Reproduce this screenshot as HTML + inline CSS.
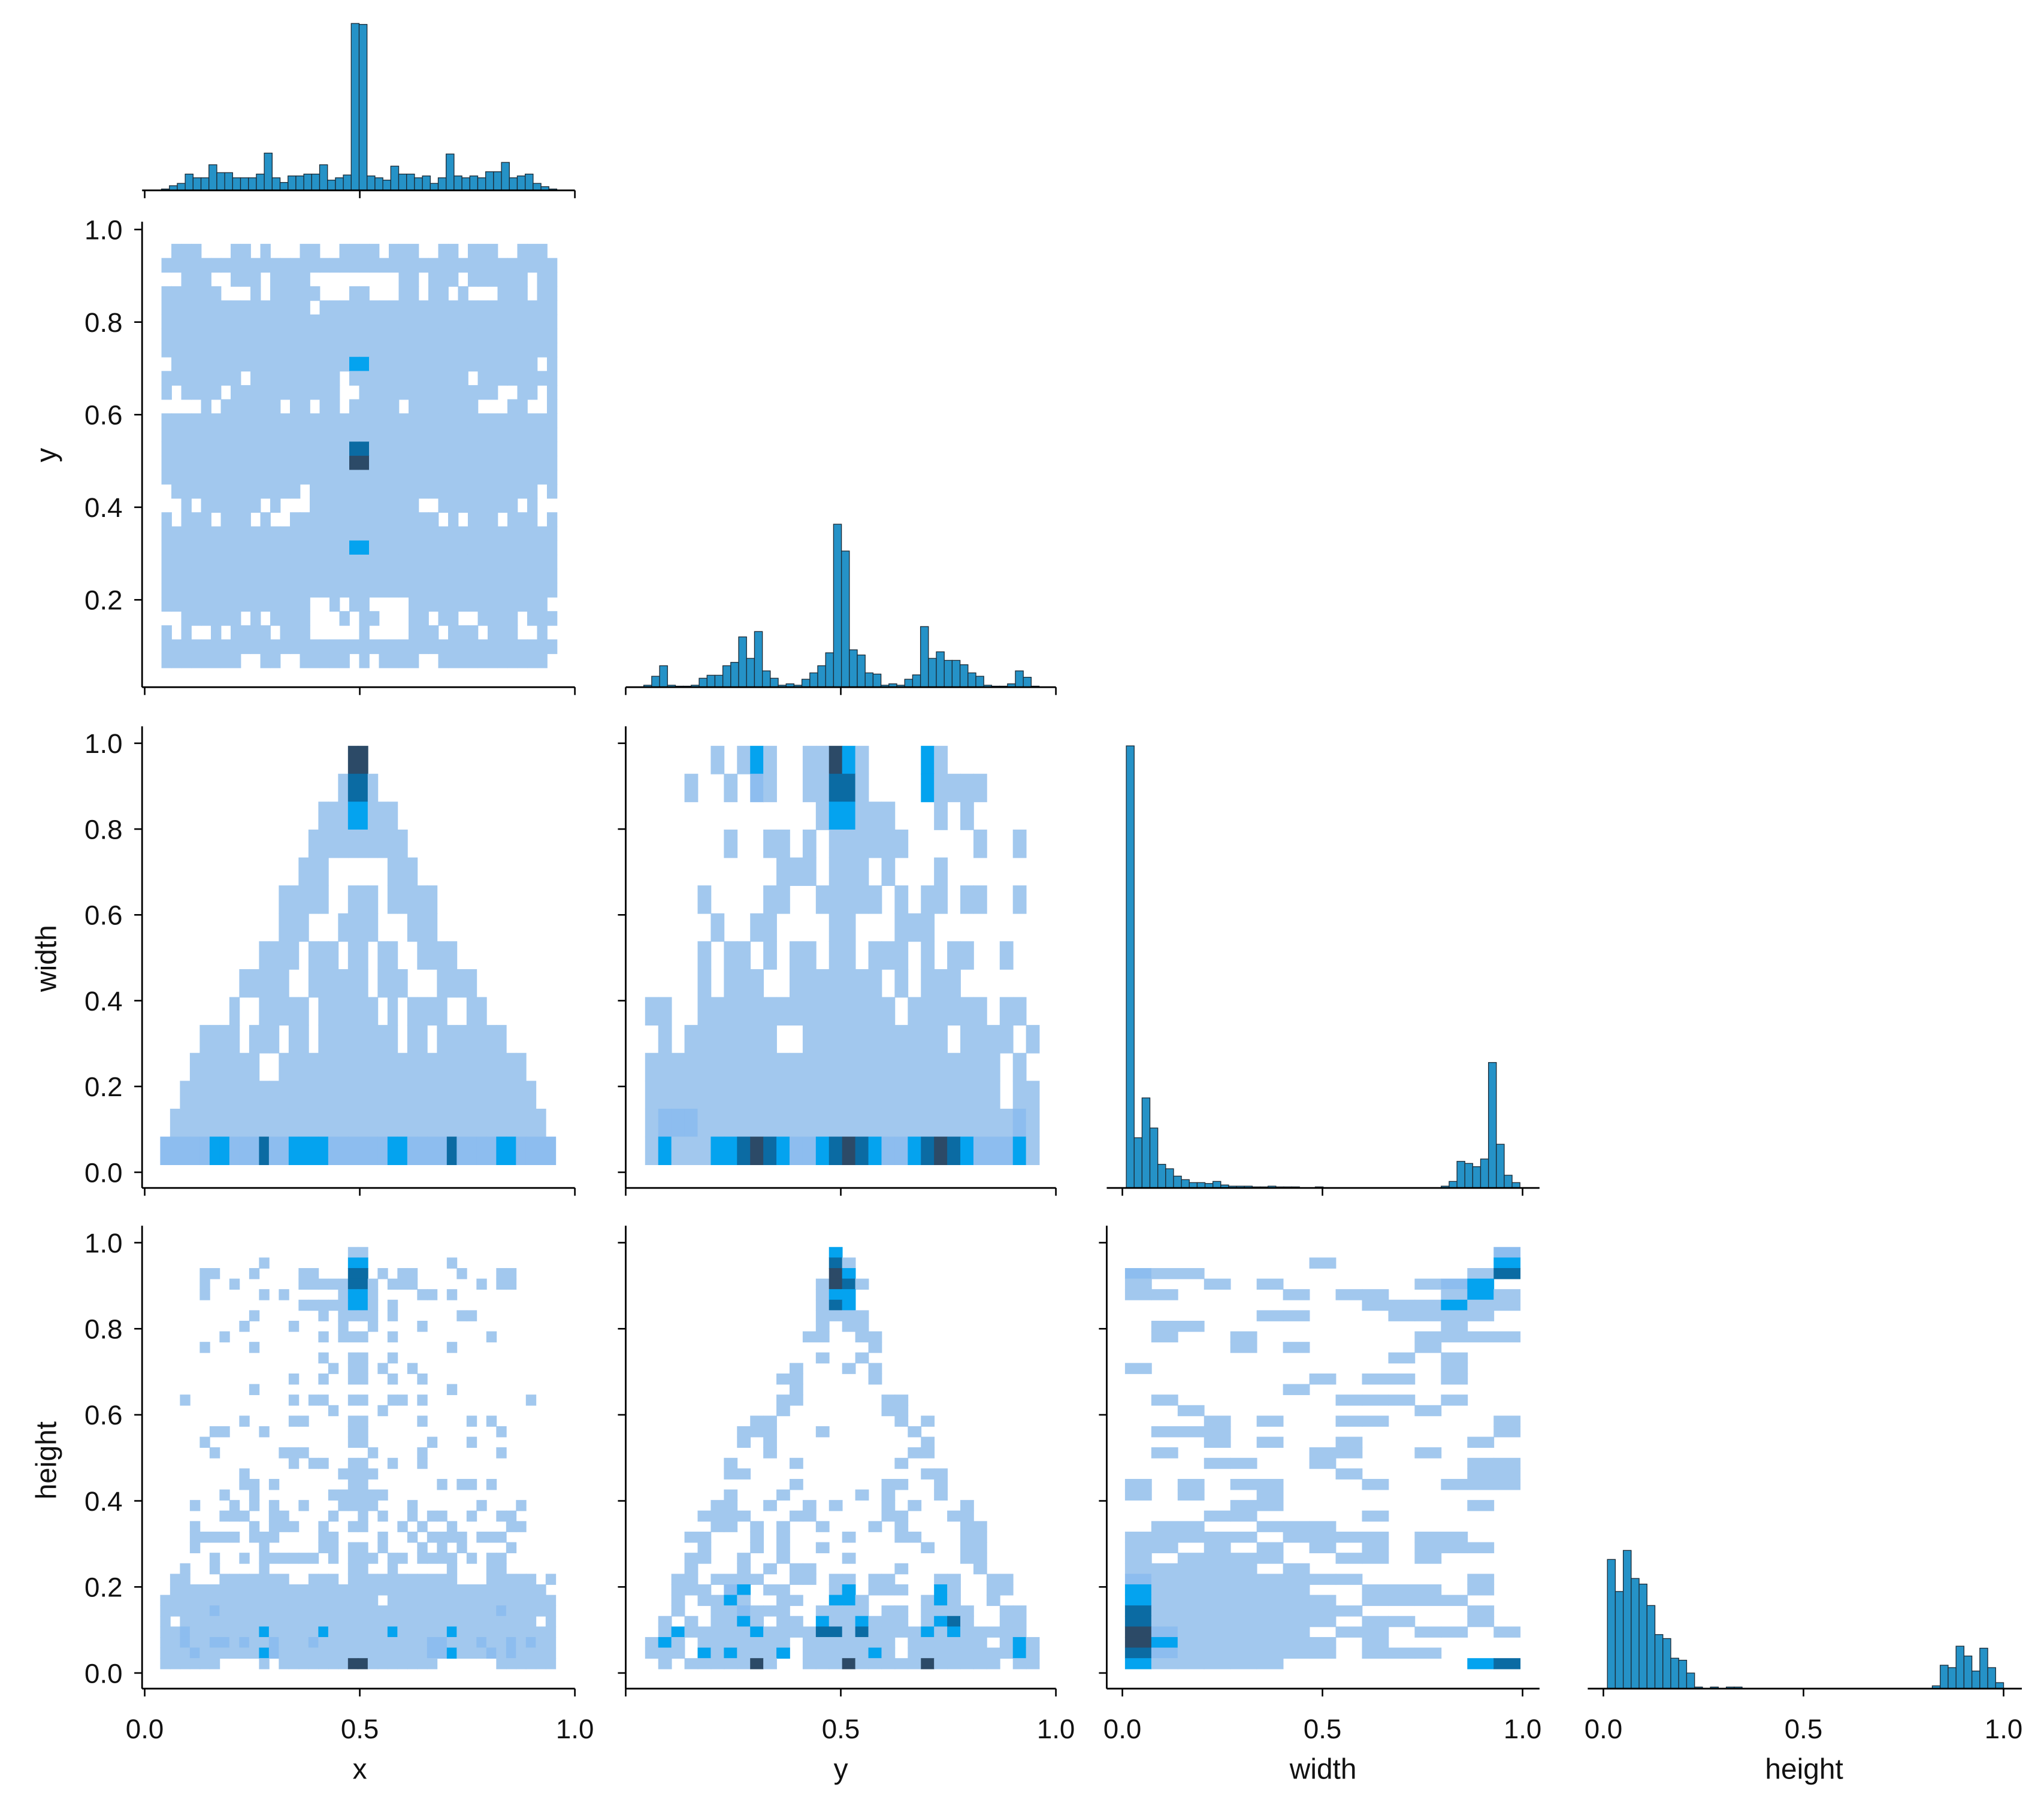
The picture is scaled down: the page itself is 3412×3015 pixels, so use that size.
<!DOCTYPE html>
<html><head><meta charset="utf-8"><style>
html,body{margin:0;padding:0;background:#fff}
svg{display:block}
text{font-family:"Liberation Sans","DejaVu Sans",sans-serif;fill:#111}
</style></head>
<body>
<svg id="fig" xmlns="http://www.w3.org/2000/svg" width="3412" height="3015" viewBox="0 0 1568 1385" preserveAspectRatio="none"></svg>
<script>
// ---------- histogram data (counts per bin) ----------
const xHistCounts=[3,10,15,35,27,27,55,38,38,27,27,27,35,80,27,17,31,31,35,35,55,22,27,33,358,356,31,27,22,52,35,35,27,31,15,27,78,31,27,31,27,40,40,60,27,31,35,15,8,3];
const yHistCounts=[10,55,108,10,5,5,10,45,60,60,108,125,253,145,280,82,45,10,17,10,40,72,108,173,820,685,188,162,72,66,10,17,10,40,62,305,145,178,135,135,113,72,55,10,5,2,17,82,50,5];
const widthHistCounts=[1498,170,305,203,80,65,40,28,18,18,15,22,10,6,6,6,3,3,6,3,3,3,0,0,3,0,0,0,0,0,0,0,0,0,0,0,0,0,0,0,6,22,90,83,72,98,425,148,43,18];
const heightHistCounts=[645,485,690,550,522,415,270,250,152,142,78,8,0,8,0,8,8,0,0,0,0,0,0,0,0,0,0,0,0,0,0,0,0,0,0,0,0,0,0,0,0,14,117,105,212,163,88,202,105,30];
// ---------- bivariate histogram grids (rows top->bottom, '.'=empty, 1..5 density level) ----------
const gridYvsX=[
".111...11.1...11..1111.111..11.111..111.",
"1111111111 1111111111 1111111111 1111111111",
"..111..111.1111.........11.111.111111.11",
"111111...1.11111...11...11.11.1...111.11",
"111111111111111.111111111111111111111111",
"1111111111 1111111111 1111111111 1111111111",
"1111111111 1111111111 1111111111 1111111111",
"1111111111 1111111111 1111111111 1111111111",
".111111111 1111111113 3111111111 11111111.1",
"11111111.1 11111111.1 1111111111 1.11111111",
"1.1111.111 11111111.. 1111111111 1111..11.1",
"....1.1111 11.11.11.1 1111.11111 11...11..1",
"1111111111 1111111111 1111111111 1111111111",
"1111111111 1111111111 1111111111 1111111111",
"1111111111 1111111114 4111111111 1111111111",
"1111111111 1111111115 5111111111 1111111111",
"1111111111 1111111111 1111111111 1111111111",
".111111111 1111.11111 1111111111 11111111.1",
"..1.111111 .1...11111 111111..11 111111.1..",
"1.111.111. 1..1111111 11111111.1 .111.111.1",
"1111111111 1111111111 1111111111 1111111111",
"1111111111 1111111113 3111111111 1111111111",
"1111111111 1111111111 1111111111 1111111111",
"1111111111 1111111111 1111111111 1111111111",
"1111111111 1111111111 1111111111 1111111111",
"1111111111 11111..1.1 1....11111 111111111.",
"..111111.1 .1111...1. 11...11.11 ..1111.111",
"1.1..1.111 1.111..... 1....111.1 11.111..1.",
"1111111111 1111111111 1111111111 1111111111",
"11111111.. 11..11111. 1.1111..11 111111111."];
const gridWidthVsX=[
".......... .........5 5......... ..........",
".......... ........14 41........ ..........",
".......... ......1113 3111...... ..........",
".......... .....11111 11111..... ..........",
".......... ....111... ...111.... ..........",
".......... ..11111..1 11.11111.. ..........",
".......... ..111...11 11...111.. ..........",
".......... 1111.111.1 1.11..1111 ..........",
"........11 111..11111 1.111...11 11........",
".......1.. 11111.1111 11.1.1111. .11.......",
"....1111.1 11.11.1111 1111.11.11 11111.....",
"...1111111 ..11111111 1111111111 1111111...",
"..11111111 1111111111 1111111111 11111111..",
".111111111 1111111111 1111111111 111111111.",
"2222233222 4223333222 2223322224 2222332222"];
const gridWidthVsY=[
".....1.131 ..11531... .31.......",
"...1..1.21 ..11441... .31111....",
".......... ...133111. ..1.1.....",
"......1..1 1.1.111111 .....1..1.",
".......... 111.111.1. ..1.......",
"....1....1 1..11111.1 .11.11..1.",
".....1..11 ....11...1 11........",
"....1.11.1 .11.11.111 .1.11..1..",
"....1.111. .1111111.1 .111......",
"11..111111 111111111. 111111.11.",
".1.1111111 ..11111111 111.1111.1",
"1111111111 1111111111 1111111.1.",
"1111111111 1111111111 1111111.11",
"1222111111 1111111111 1111111121",
"1311133454 3223454322 3454322231"];
const gridHeightVsX=[
".......... .........1 1......... ..........",
".......... 1........3 3........1 ..........",
"....11...1 ....11...4 4.1.11.... 1...11....",
"....1..1.. ....111114 41.111.... ..1.11....",
"....1..... 1.1.....13 31....11.1 ..........",
".......... ....111113 31.1...... ..........",
".........1 ......1.11 11.1...... 11........",
"........1. ...1....1. .1....1... ..........",
"......1... ......1.11 1..1...... ...1......",
"....1....1 .......... .........1 ..........",
".......... ......1..1 1..1...... ..........",
".......... .......1.1 1.1..1.... ..........",
".......... ...1..1..1 1..1..1... ..........",
".........1 .......... .........1 ..........",
"..1....... ...1.11..1 1..11.1... .......1..",
".......... .......1.. ..1....... ..........",
"........1. ...11....1 1.....1... .1.1......",
".....11... 1........1 1......... ....1.....",
"....1..... .........1 1......1.. .1........",
".....1.... ..111..... .1....1... ....1.....",
".......... ...1.11..1 1..1..1... ..........",
"........1. ........11 11........ ..........",
"........11 .1.......1 1.......1. 11.1......",
"......1..1 .......111 111....... ..........",
"...1...1.1 .1..1...11 11...1.... ..1...1...",
"......111. .11....1.. 1.1..1.11. .1..11....",
"...1.....1 .111..1..1 1...1.1..1 .....11...",
"...11111.1 11....11.. ..1..1.111 1.111.....",
"...1...... 1.....11.1 1.1...1.1. 1....1....",
".....1..1. 111111.1.1 11.11.1111 .1.11.....",
"..1..1.... 1........1 1..1.....1 ...11.....",
".11...1111 111..111.1 1111111111 ...11111.1",
".111111111 1111111111 1111111111 111111111.",
"1111111111 1111111111 11.1111111 1111111111",
"1111121111 1111111111 1111111111 1111211111",
"1.11111111 1111111111 1111111111 11111111.1",
"1121111111 3111113111 1113111113 1111111111",
"1121122121 1211121111 1111111221 1121121211",
"1112111111 3211111111 1111111223 1112121111",
"111111.... 1.11111115 51111111.. ....111111"];
const gridHeightVsY=[
".......... ....3..... ..........",
".......... ....41.... ..........",
".......... ....53.... ..........",
".......... ...1541... ..........",
".......... ...133.... ..........",
".......... ...143.... ..........",
".......... ...1111... ..........",
".......... ...1.11... ..........",
".......... ..11..11.. ..........",
".......... .......1.. ..........",
".......... ...1..1... ..........",
".......... .1...1.1.. ..........",
".......... 11.....1.. ..........",
".......... .1........ ..........",
".......... 11......11 ..........",
".......... 1.......11 ..........",
"........11 .........1 .1........",
".......111 ...1...... 1.........",
".......1.1 .......... .1........",
".........1 .......... 11........",
"......1... .1.......1 ..........",
"......11.. .......... .11.......",
".......... .1......11 ..1.......",
"......1... 1.....1.1. ..1.......",
".....11..1 ..1.1...1. 1...1.....",
"....1111.. .11.....11 ...11.....",
".....11.1. 1..1...1.1 ....11....",
"...11...1. 1....1...1 1...11....",
"....1...1. 1..1...... .1..11....",
"...11..1.. 1....1.... ....11....",
"...1...1.1 .11......1 .....1....",
"..11.1111. .11.11.11. ..11..11..",
"..111.23.1 1...13.111 ..31..11..",
"..1.1131.. 11..331... .131..1...",
"..1..11211 1..1111.11 .1111..11.",
".1.1.1131. 11.3113111 .1341..11.",
".131111131 1114414111 131311111.",
"131.111111 1.1111111. 111111.131",
"111.313111 3.1111131. 1111111131",
".1.1111151 ..11151111 1511111.11"];
const gridHeightVsWidth=[
"..... ..... ....2","..... ..1.. ....3","211.. ..... ...14","1..1. 1.... .123.",
"11... .1.11 ..131","..... ....1 11311","..... 11... 1111.",".11.. ..... ..1..",
".1..1 ..... .1111","....1 .1... .1...","..... ..... 1.1..","1.... ..... ..1..",
"..... ..1.1 1.1..","..... .1... .....",".1... ...11 1.1..","..1.. ..... .1...",
"...1. 1..11 ....1",".111. ..... ....1","...1. 1..1. ...1.",".1... ..11. .1...",
"...11 ..1.. ...11","..... ...1. ...11","1.1.1 1...1 ..111","1.1.. 1.... .....",
"....1 1.... ...1.","...11 ....1 .....",".11.. 111.. .....","11111 .1111 .11..",
"11.1. 1.1.1 .111.","1.111 1..11 .1...","11111 .1... .....","21111 1111. ...1.",
"31111 11..1 11.1.","31111 111.1 111..","41111 1111. ...1.","41111 111.1 1..1.",
"52111 11.11 .11.1","53111 111.1 .....","42111 111.1 11...","31111 1.... ...34"];
// ---------- tick labels ----------
const xTickLabels=["0.0","0.5","1.0"];
const xTickValues=[0,0.5,1];
const yTickValuesRow2=[0.2,0.4,0.6,0.8,1.0];
const yTickValuesRows34=[0.0,0.2,0.4,0.6,0.8,1.0];
const varNames=["x","y","width","height"];

// ---------- layout (viewBox units) ----------
const NS="http://www.w3.org/2000/svg";
const svg=document.getElementById('fig');
const colScale=[ {o:111,k:330},{o:480,k:330},{o:861,k:307},{o:1230,k:307} ];
const colSpine=[[109,441],[480,810],[849,1181],[1218,1551]];
const rowScale=[ null,{o:531,k:355},{o:899,k:329},{o:1283,k:330} ];
const rowBottom=[146,527,911,1295];
const rowTop=[12,170,557,940];
const levelColor={"1":"#a2c8ee","2":"#8dbdef","3":"#04a3ef","4":"#0b6ba3","5":"#2c4a67"};
function sx(c,v){return colScale[c].o+colScale[c].k*v;}
function sy(r,v){return rowScale[r].o-rowScale[r].k*v;}
function el(tag,attrs,parent){const e=document.createElementNS(NS,tag);for(const a in attrs)e.setAttribute(a,attrs[a]);(parent||svg).appendChild(e);return e;}

function drawGrid(rows,col,row,x0,x1,y0,y1,name){
  const g=el('g',{});
  
  
  const clean=rows.map(s=>s.replace(/ /g,''));
  const nr=clean.length,nc=clean[0].length;
  const dx=(x1-x0)/nc,dy=(y1-y0)/nr;
  clean.forEach((s,i)=>{
    for(let j=0;j<nc;j++){
      const ch=s[j]; if(!ch||ch==='.')continue;
      const vx=x0+j*dx, vyTop=y1-i*dy;
      const px=sx(col,vx), px2=sx(col,vx+dx), py=sy(row,vyTop), py2=sy(row,vyTop-dy);
      const r=el('rect',{x:px.toFixed(2),y:py.toFixed(2),width:(px2-px+0.4).toFixed(2),height:(py2-py+0.4).toFixed(2),fill:levelColor[ch]},g);
      
      
    }
  });
}
function drawHist(counts,col,row,x0,x1,H,name){
  const g=el('g',{});
  
  
  const mx=Math.max(...counts);
  const dx=(x1-x0)/counts.length;
  counts.forEach((c,i)=>{
    if(c<=0)return;
    const px=sx(col,x0+i*dx),px2=sx(col,x0+(i+1)*dx);
    const h=Math.max(c/mx*H,0.8);
    const r=el('rect',{x:px.toFixed(2),y:(rowBottom[row]-h).toFixed(2),width:(px2-px).toFixed(2),height:h.toFixed(2),fill:"#2592c7",stroke:"#1b2a36","stroke-width":"0.6"},g);
    
    
  });
}

// heatmaps
drawGrid(gridYvsX,0,1,0.039,0.958,0.0535,0.969,'heatmap-y-vs-x');
drawGrid(gridWidthVsX,0,2,0.036,0.955,0.018,0.994,'heatmap-width-vs-x');
drawGrid(gridWidthVsY,1,2,0.045,0.961,0.018,0.994,'heatmap-width-vs-y');
drawGrid(gridHeightVsX,0,3,0.036,0.955,0.01,0.99,'heatmap-height-vs-x');
drawGrid(gridHeightVsY,1,3,0.045,0.961,0.01,0.99,'heatmap-height-vs-y');
drawGrid(gridHeightVsWidth,2,3,0.0065,0.9935,0.01,0.99,'heatmap-height-vs-width');
// diagonal histograms
drawHist(xHistCounts,0,0,0.039,0.958,128,'hist-x');
drawHist(yHistCounts,1,1,0.042,0.961,125,'hist-y');
drawHist(widthHistCounts,2,2,0.0098,0.9935,339,'hist-width');
drawHist(heightHistCounts,3,3,0.01,1.0,106,'hist-height');

// axes
const axesSpec=[[0,0,false],[1,0,true],[1,1,false],[2,0,true],[2,1,true],[2,2,false],[3,0,true],[3,1,true],[3,2,true],[3,3,false]];
axesSpec.forEach(([r,c,hasLeft])=>{
  const g=el('g',{});
  
  
  const yb=rowBottom[r];
  el('line',{x1:colSpine[c][0],x2:colSpine[c][1],y1:yb,y2:yb,stroke:"#000","stroke-width":1.3},g);
  xTickValues.forEach((v,i)=>{
    const x=sx(c,v);
    el('line',{x1:x,x2:x,y1:yb,y2:yb+6,stroke:"#000","stroke-width":1.2},g);
    if(r===3){
      if(c===1&&i===0)return;
      const t=el('text',{x:x,y:1333,"font-size":21,"text-anchor":"middle"},g);
      t.textContent=xTickLabels[i];
      
      
    }
  });
  if(hasLeft){
    const xl=colSpine[c][0];
    el('line',{x1:xl,x2:xl,y1:rowTop[r],y2:yb,stroke:"#000","stroke-width":1.3},g);
    const vals=r===1?yTickValuesRow2:yTickValuesRows34;
    vals.forEach(v=>{
      const y=sy(r,v);
      el('line',{x1:xl-6,x2:xl,y1:y,y2:y,stroke:"#000","stroke-width":1.2},g);
      if(c===0){
        const t=el('text',{x:94,y:y+7.5,"font-size":21,"text-anchor":"end"},g);
        t.textContent=v.toFixed(1);
        
        
      }
    });
  }
});
// axis titles
const xTitleX=[276,645,1015,1384];
varNames.forEach((n,i)=>{
  const t=el('text',{x:xTitleX[i],y:1364,"font-size":22,"text-anchor":"middle"});
  t.textContent=n;
  
  
});
const yTitleY=[349,735,1120];
varNames.slice(1).forEach((n,i)=>{
  const y=yTitleY[i];
  const t=el('text',{x:36,y:y,"font-size":22,"text-anchor":"middle",transform:"rotate(-90 36 "+y+") translate(0 7)"});
  t.textContent=n;
  
  
});
</script>
</body></html>
